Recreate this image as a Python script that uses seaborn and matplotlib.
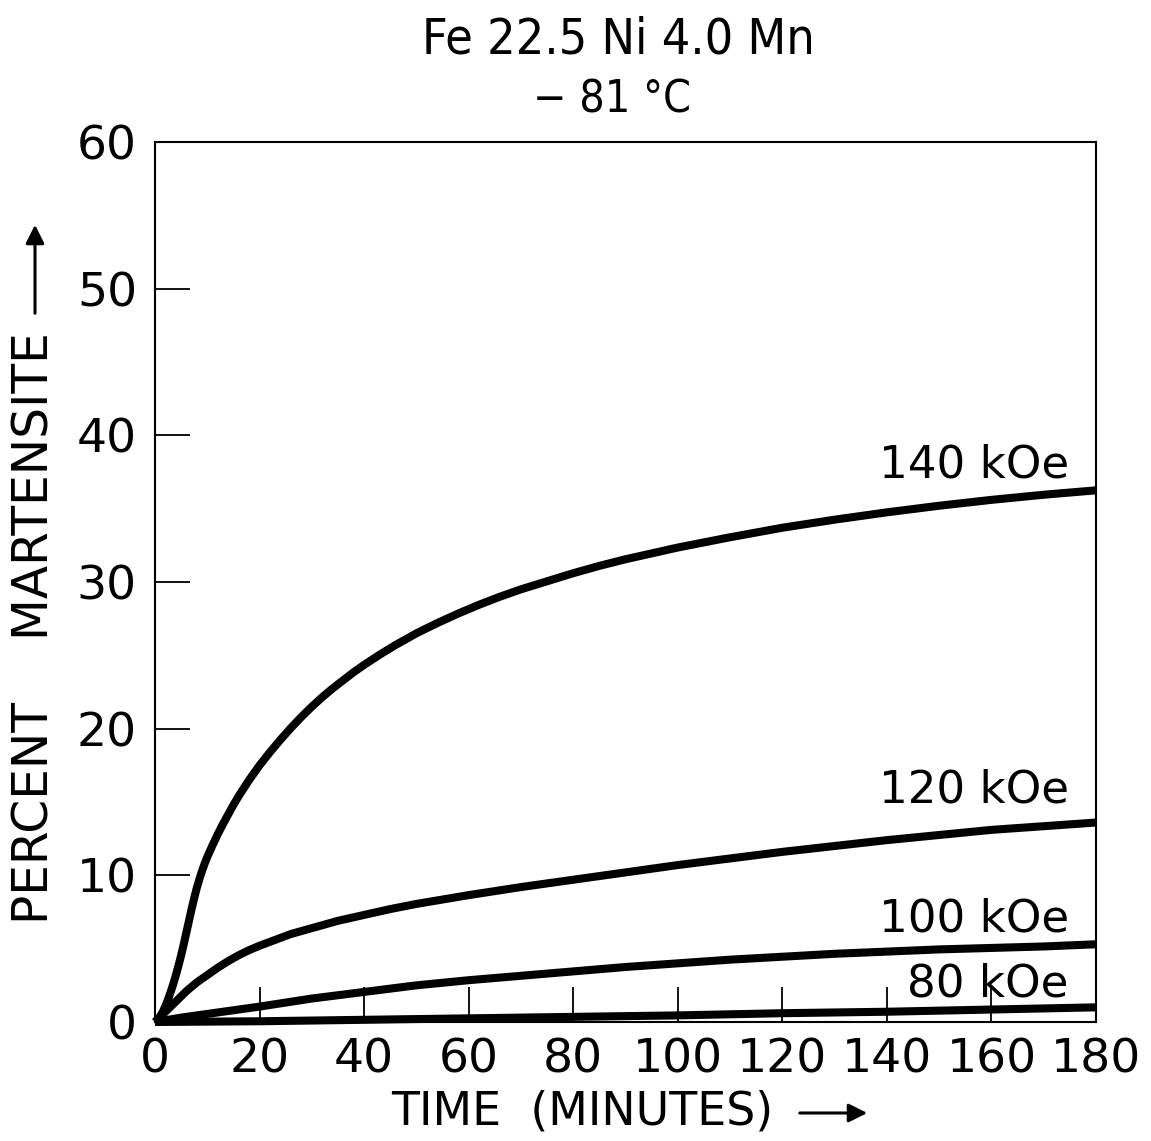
import numpy as np
import pandas as pd
import matplotlib
matplotlib.use("Agg")
import matplotlib.pyplot as plt
import seaborn as sns

# ---- data ----
t_140 = [0, 0.5, 1, 1.5, 2, 2.5, 3, 3.5, 4, 4.5, 5, 5.5, 6, 6.5, 7, 7.5, 8, 8.5, 9, 9.5,
         10, 11, 12, 13, 14, 15, 16, 17, 18, 19, 20, 22, 24, 26, 28, 30, 32, 34, 36, 38,
         40, 43, 46, 50, 54, 58, 62, 66, 70, 75, 80, 85, 90, 95, 100, 110, 120, 130, 140,
         150, 160, 170, 180]
p_140 = [0, 0.15, 0.4, 0.7, 1.1, 1.55, 2.05, 2.6, 3.2, 3.85, 4.55, 5.3, 6.1, 6.9, 7.7,
         8.45, 9.15, 9.75, 10.3, 10.8, 11.25, 12.05, 12.8, 13.5, 14.15, 14.8, 15.4, 15.95,
         16.5, 17.0, 17.5, 18.4, 19.25, 20.05, 20.8, 21.5, 22.15, 22.75, 23.3, 23.85,
         24.35, 25.05, 25.7, 26.5, 27.2, 27.85, 28.45, 29.0, 29.5, 30.05, 30.6, 31.1,
         31.55, 31.95, 32.35, 33.05, 33.7, 34.25, 34.75, 35.2, 35.6, 35.95, 36.25]

t_120 = [0, 1, 2, 3, 4, 5, 6, 7, 8, 9, 10, 12, 14, 16, 18, 20, 23, 26, 30, 35, 40, 45,
         50, 55, 60, 70, 80, 90, 100, 110, 120, 130, 140, 150, 160, 170, 180]
p_120 = [0, 0.35, 0.7, 1.05, 1.4, 1.75, 2.1, 2.4, 2.7, 2.95, 3.2, 3.7, 4.15, 4.55, 4.9,
         5.2, 5.6, 6.0, 6.4, 6.9, 7.3, 7.7, 8.05, 8.35, 8.65, 9.2, 9.7, 10.2, 10.7, 11.15,
         11.6, 12.0, 12.4, 12.75, 13.1, 13.35, 13.6]

t_100 = [0, 2, 5, 10, 15, 20, 30, 40, 50, 60, 70, 80, 90, 100, 110, 120, 130, 140, 150,
         160, 170, 180]
p_100 = [0, 0.12, 0.3, 0.55, 0.8, 1.05, 1.6, 2.05, 2.5, 2.85, 3.15, 3.45, 3.75, 4.0,
         4.25, 4.45, 4.65, 4.8, 4.95, 5.05, 5.15, 5.3]

t_80 = [0, 20, 40, 60, 80, 100, 120, 140, 160, 180]
p_80 = [0, 0.05, 0.15, 0.25, 0.35, 0.45, 0.6, 0.7, 0.85, 1.0]

fields = ["140 kOe", "120 kOe", "100 kOe", "80 kOe"]
label_y = [38.0, 15.8, 7.05, 2.6]

x_ticks = [0, 20, 40, 60, 80, 100, 120, 140, 160, 180]
y_ticks = [0, 10, 20, 30, 40, 50, 60]

title_1 = "Fe 22.5 Ni 4.0 Mn"
title_2 = "\u2212 81 \u00b0C"
x_label = "TIME  (MINUTES)"
y_label = "PERCENT    MARTENSITE"

# ---- build table ----
frames = []
for name, t, p in zip(fields, [t_140, t_120, t_100, t_80], [p_140, p_120, p_100, p_80]):
    frames.append(pd.DataFrame({"time": t, "pct": p, "field": name}))
df = pd.concat(frames, ignore_index=True)

sns.set_theme(style="white")
plt.rcParams["font.family"] = ["DejaVu Sans"]

W, H = 1151, 1141
fig = plt.figure(figsize=(W / 100, H / 100), dpi=100)
left, right, bottom, top = 155, 1096, 1022, 142
ax = fig.add_axes([left / W, 1 - bottom / H, (right - left) / W, (bottom - top) / H])

sns.lineplot(data=df, x="time", y="pct", hue="field", palette=["black"] * 4,
             legend=False, estimator=None, sort=True, linewidth=5.8, ax=ax)
for ln in ax.get_lines():
    ln.set_clip_on(False)
    ln.set_solid_capstyle("butt")
    ln.set_solid_joinstyle("round")

ax.set_xlim(0, 180)
ax.set_ylim(0, 60)
ax.set_xticks(x_ticks)
ax.set_yticks(y_ticks)
ax.set_xticklabels([str(v) for v in x_ticks])
ax.set_yticklabels([str(v) for v in y_ticks])
ax.tick_params(axis="both", which="major", bottom=True, left=True, top=False,
               right=False, direction="in", length=25, width=1.3, color="black",
               labelsize=34, labelcolor="black")
ax.tick_params(axis="x", pad=11)
ax.tick_params(axis="y", pad=13)
ax.set_xlabel("")
ax.set_ylabel("")
for s in ax.spines.values():
    s.set_visible(True)
    s.set_color("black")
    s.set_linewidth(1.5)
ax.grid(False)
ax.set_facecolor("white")

for name, yv in zip(fields, label_y):
    ax.text(174.8, yv, name, ha="right", va="center", fontsize=32.5, color="black")

# titles
fig.text(618 / W, 1 - 40 / H, title_1, ha="center", va="center", fontsize=36,
         color="black", fontstretch="condensed")
fig.text(612 / W, 1 - 100 / H, title_2, ha="center", va="center", fontsize=32,
         color="black", fontstretch="condensed")

# axis labels
fig.text(582 / W, 1 - 1112 / H, x_label, ha="center", va="center", fontsize=33,
         color="black")
fig.text(35 / W, 1 - 628 / H, y_label, ha="center", va="center", fontsize=35,
         rotation=90, color="black")

# arrows
fig.add_artist(matplotlib.patches.FancyArrowPatch(
    (797 / W, 1 - 1113 / H), (870 / W, 1 - 1113 / H), transform=fig.transFigure,
    arrowstyle="-|>", mutation_scale=28, lw=2.2, color="black"))
fig.add_artist(matplotlib.patches.FancyArrowPatch(
    (35 / W, 1 - 316 / H), (35 / W, 1 - 222 / H), transform=fig.transFigure,
    arrowstyle="-|>", mutation_scale=28, lw=2.2, color="black"))

fig.savefig("out.png", dpi=100, facecolor="white")
